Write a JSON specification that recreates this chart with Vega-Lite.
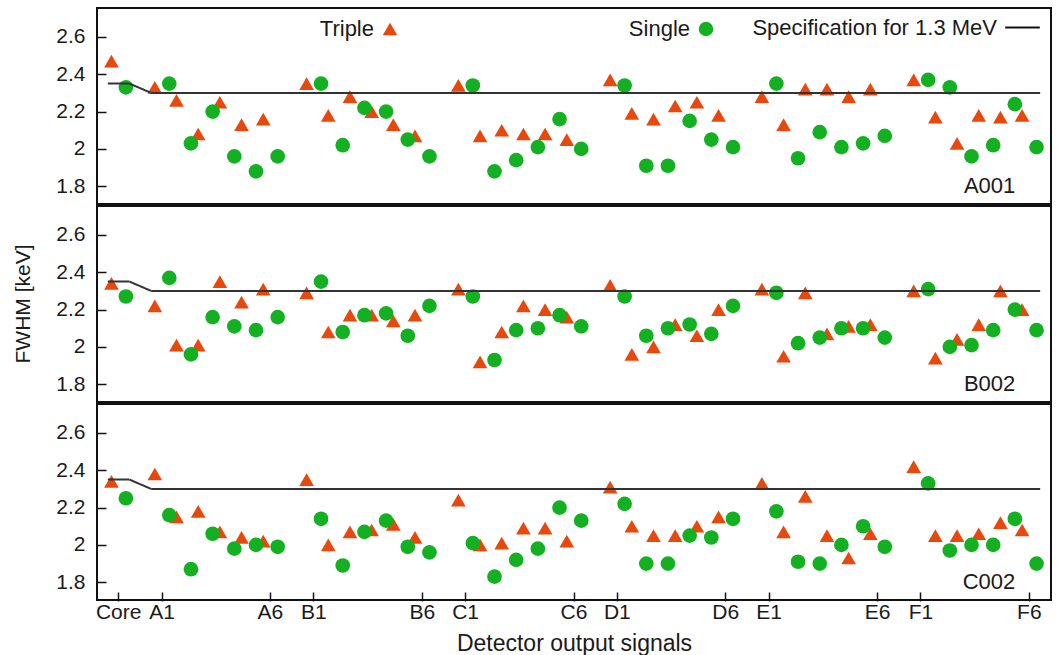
{
  "$schema": "https://vega.github.io/schema/vega-lite/v6.json",
  "padding": {"left": 12, "top": 7, "right": 5, "bottom": 5},
  "background": "white",
  "config": {
    "font": "Liberation Sans",
    "view": {"stroke": "#111", "strokeWidth": 2},
    "axis": {"labelFont": "Liberation Sans", "labelFontSize": 21, "labelColor": "#1a1a1a", "tickColor": "#111", "tickWidth": 1.5, "grid": false, "domain": false, "zindex": 1, "titleFont": "Liberation Sans", "titleFontWeight": "normal", "titleColor": "#1a1a1a"},
    "legend": {"labelFont": "Liberation Sans", "labelFontSize": 22, "labelColor": "#1a1a1a", "labelLimit": 400}
  },
  "data": {"values": [
    {"p":"A001","c":"Core","t":"Triple","v":2.47},{"p":"A001","c":"A1","t":"Triple","v":2.33},{"p":"A001","c":"A2","t":"Triple","v":2.26},{"p":"A001","c":"A3","t":"Triple","v":2.08},{"p":"A001","c":"A4","t":"Triple","v":2.25},{"p":"A001","c":"A5","t":"Triple","v":2.13},{"p":"A001","c":"A6","t":"Triple","v":2.16},
    {"p":"A001","c":"B1","t":"Triple","v":2.35},{"p":"A001","c":"B2","t":"Triple","v":2.18},{"p":"A001","c":"B3","t":"Triple","v":2.28},{"p":"A001","c":"B4","t":"Triple","v":2.2},{"p":"A001","c":"B5","t":"Triple","v":2.13},{"p":"A001","c":"B6","t":"Triple","v":2.07},
    {"p":"A001","c":"C1","t":"Triple","v":2.34},{"p":"A001","c":"C2","t":"Triple","v":2.07},{"p":"A001","c":"C3","t":"Triple","v":2.1},{"p":"A001","c":"C4","t":"Triple","v":2.08},{"p":"A001","c":"C5","t":"Triple","v":2.08},{"p":"A001","c":"C6","t":"Triple","v":2.05},
    {"p":"A001","c":"D1","t":"Triple","v":2.37},{"p":"A001","c":"D2","t":"Triple","v":2.19},{"p":"A001","c":"D3","t":"Triple","v":2.16},{"p":"A001","c":"D4","t":"Triple","v":2.23},{"p":"A001","c":"D5","t":"Triple","v":2.25},{"p":"A001","c":"D6","t":"Triple","v":2.18},
    {"p":"A001","c":"E1","t":"Triple","v":2.28},{"p":"A001","c":"E2","t":"Triple","v":2.13},{"p":"A001","c":"E3","t":"Triple","v":2.32},{"p":"A001","c":"E4","t":"Triple","v":2.32},{"p":"A001","c":"E5","t":"Triple","v":2.28},{"p":"A001","c":"E6","t":"Triple","v":2.32},
    {"p":"A001","c":"F1","t":"Triple","v":2.37},{"p":"A001","c":"F2","t":"Triple","v":2.17},{"p":"A001","c":"F3","t":"Triple","v":2.03},{"p":"A001","c":"F4","t":"Triple","v":2.18},{"p":"A001","c":"F5","t":"Triple","v":2.17},{"p":"A001","c":"F6","t":"Triple","v":2.18},
    {"p":"A001","c":"Core","t":"Single","v":2.33},{"p":"A001","c":"A1","t":"Single","v":2.35},{"p":"A001","c":"A2","t":"Single","v":2.03},{"p":"A001","c":"A3","t":"Single","v":2.2},{"p":"A001","c":"A4","t":"Single","v":1.96},{"p":"A001","c":"A5","t":"Single","v":1.88},{"p":"A001","c":"A6","t":"Single","v":1.96},
    {"p":"A001","c":"B1","t":"Single","v":2.35},{"p":"A001","c":"B2","t":"Single","v":2.02},{"p":"A001","c":"B3","t":"Single","v":2.22},{"p":"A001","c":"B4","t":"Single","v":2.2},{"p":"A001","c":"B5","t":"Single","v":2.05},{"p":"A001","c":"B6","t":"Single","v":1.96},
    {"p":"A001","c":"C1","t":"Single","v":2.34},{"p":"A001","c":"C2","t":"Single","v":1.88},{"p":"A001","c":"C3","t":"Single","v":1.94},{"p":"A001","c":"C4","t":"Single","v":2.01},{"p":"A001","c":"C5","t":"Single","v":2.16},{"p":"A001","c":"C6","t":"Single","v":2.0},
    {"p":"A001","c":"D1","t":"Single","v":2.34},{"p":"A001","c":"D2","t":"Single","v":1.91},{"p":"A001","c":"D3","t":"Single","v":1.91},{"p":"A001","c":"D4","t":"Single","v":2.15},{"p":"A001","c":"D5","t":"Single","v":2.05},{"p":"A001","c":"D6","t":"Single","v":2.01},
    {"p":"A001","c":"E1","t":"Single","v":2.35},{"p":"A001","c":"E2","t":"Single","v":1.95},{"p":"A001","c":"E3","t":"Single","v":2.09},{"p":"A001","c":"E4","t":"Single","v":2.01},{"p":"A001","c":"E5","t":"Single","v":2.03},{"p":"A001","c":"E6","t":"Single","v":2.07},
    {"p":"A001","c":"F1","t":"Single","v":2.37},{"p":"A001","c":"F2","t":"Single","v":2.33},{"p":"A001","c":"F3","t":"Single","v":1.96},{"p":"A001","c":"F4","t":"Single","v":2.02},{"p":"A001","c":"F5","t":"Single","v":2.24},{"p":"A001","c":"F6","t":"Single","v":2.01},

    {"p":"B002","c":"Core","t":"Triple","v":2.34},{"p":"B002","c":"A1","t":"Triple","v":2.22},{"p":"B002","c":"A2","t":"Triple","v":2.01},{"p":"B002","c":"A3","t":"Triple","v":2.01},{"p":"B002","c":"A4","t":"Triple","v":2.35},{"p":"B002","c":"A5","t":"Triple","v":2.24},{"p":"B002","c":"A6","t":"Triple","v":2.31},
    {"p":"B002","c":"B1","t":"Triple","v":2.29},{"p":"B002","c":"B2","t":"Triple","v":2.08},{"p":"B002","c":"B3","t":"Triple","v":2.17},{"p":"B002","c":"B4","t":"Triple","v":2.17},{"p":"B002","c":"B5","t":"Triple","v":2.14},{"p":"B002","c":"B6","t":"Triple","v":2.17},
    {"p":"B002","c":"C1","t":"Triple","v":2.31},{"p":"B002","c":"C2","t":"Triple","v":1.92},{"p":"B002","c":"C3","t":"Triple","v":2.08},{"p":"B002","c":"C4","t":"Triple","v":2.22},{"p":"B002","c":"C5","t":"Triple","v":2.2},{"p":"B002","c":"C6","t":"Triple","v":2.16},
    {"p":"B002","c":"D1","t":"Triple","v":2.33},{"p":"B002","c":"D2","t":"Triple","v":1.96},{"p":"B002","c":"D3","t":"Triple","v":2.0},{"p":"B002","c":"D4","t":"Triple","v":2.12},{"p":"B002","c":"D5","t":"Triple","v":2.06},{"p":"B002","c":"D6","t":"Triple","v":2.2},
    {"p":"B002","c":"E1","t":"Triple","v":2.31},{"p":"B002","c":"E2","t":"Triple","v":1.95},{"p":"B002","c":"E3","t":"Triple","v":2.29},{"p":"B002","c":"E4","t":"Triple","v":2.07},{"p":"B002","c":"E5","t":"Triple","v":2.11},{"p":"B002","c":"E6","t":"Triple","v":2.12},
    {"p":"B002","c":"F1","t":"Triple","v":2.3},{"p":"B002","c":"F2","t":"Triple","v":1.94},{"p":"B002","c":"F3","t":"Triple","v":2.04},{"p":"B002","c":"F4","t":"Triple","v":2.12},{"p":"B002","c":"F5","t":"Triple","v":2.3},{"p":"B002","c":"F6","t":"Triple","v":2.2},
    {"p":"B002","c":"Core","t":"Single","v":2.27},{"p":"B002","c":"A1","t":"Single","v":2.37},{"p":"B002","c":"A2","t":"Single","v":1.96},{"p":"B002","c":"A3","t":"Single","v":2.16},{"p":"B002","c":"A4","t":"Single","v":2.11},{"p":"B002","c":"A5","t":"Single","v":2.09},{"p":"B002","c":"A6","t":"Single","v":2.16},
    {"p":"B002","c":"B1","t":"Single","v":2.35},{"p":"B002","c":"B2","t":"Single","v":2.08},{"p":"B002","c":"B3","t":"Single","v":2.17},{"p":"B002","c":"B4","t":"Single","v":2.18},{"p":"B002","c":"B5","t":"Single","v":2.06},{"p":"B002","c":"B6","t":"Single","v":2.22},
    {"p":"B002","c":"C1","t":"Single","v":2.27},{"p":"B002","c":"C2","t":"Single","v":1.93},{"p":"B002","c":"C3","t":"Single","v":2.09},{"p":"B002","c":"C4","t":"Single","v":2.1},{"p":"B002","c":"C5","t":"Single","v":2.17},{"p":"B002","c":"C6","t":"Single","v":2.11},
    {"p":"B002","c":"D1","t":"Single","v":2.27},{"p":"B002","c":"D2","t":"Single","v":2.06},{"p":"B002","c":"D3","t":"Single","v":2.1},{"p":"B002","c":"D4","t":"Single","v":2.12},{"p":"B002","c":"D5","t":"Single","v":2.07},{"p":"B002","c":"D6","t":"Single","v":2.22},
    {"p":"B002","c":"E1","t":"Single","v":2.29},{"p":"B002","c":"E2","t":"Single","v":2.02},{"p":"B002","c":"E3","t":"Single","v":2.05},{"p":"B002","c":"E4","t":"Single","v":2.1},{"p":"B002","c":"E5","t":"Single","v":2.1},{"p":"B002","c":"E6","t":"Single","v":2.05},
    {"p":"B002","c":"F1","t":"Single","v":2.31},{"p":"B002","c":"F2","t":"Single","v":2.0},{"p":"B002","c":"F3","t":"Single","v":2.01},{"p":"B002","c":"F4","t":"Single","v":2.09},{"p":"B002","c":"F5","t":"Single","v":2.2},{"p":"B002","c":"F6","t":"Single","v":2.09},

    {"p":"C002","c":"Core","t":"Triple","v":2.34},{"p":"C002","c":"A1","t":"Triple","v":2.38},{"p":"C002","c":"A2","t":"Triple","v":2.15},{"p":"C002","c":"A3","t":"Triple","v":2.18},{"p":"C002","c":"A4","t":"Triple","v":2.07},{"p":"C002","c":"A5","t":"Triple","v":2.04},{"p":"C002","c":"A6","t":"Triple","v":2.02},
    {"p":"C002","c":"B1","t":"Triple","v":2.35},{"p":"C002","c":"B2","t":"Triple","v":2.0},{"p":"C002","c":"B3","t":"Triple","v":2.07},{"p":"C002","c":"B4","t":"Triple","v":2.08},{"p":"C002","c":"B5","t":"Triple","v":2.11},{"p":"C002","c":"B6","t":"Triple","v":2.04},
    {"p":"C002","c":"C1","t":"Triple","v":2.24},{"p":"C002","c":"C2","t":"Triple","v":2.0},{"p":"C002","c":"C3","t":"Triple","v":2.01},{"p":"C002","c":"C4","t":"Triple","v":2.09},{"p":"C002","c":"C5","t":"Triple","v":2.09},{"p":"C002","c":"C6","t":"Triple","v":2.02},
    {"p":"C002","c":"D1","t":"Triple","v":2.31},{"p":"C002","c":"D2","t":"Triple","v":2.1},{"p":"C002","c":"D3","t":"Triple","v":2.05},{"p":"C002","c":"D4","t":"Triple","v":2.05},{"p":"C002","c":"D5","t":"Triple","v":2.1},{"p":"C002","c":"D6","t":"Triple","v":2.15},
    {"p":"C002","c":"E1","t":"Triple","v":2.33},{"p":"C002","c":"E2","t":"Triple","v":2.07},{"p":"C002","c":"E3","t":"Triple","v":2.26},{"p":"C002","c":"E4","t":"Triple","v":2.05},{"p":"C002","c":"E5","t":"Triple","v":1.93},{"p":"C002","c":"E6","t":"Triple","v":2.06},
    {"p":"C002","c":"F1","t":"Triple","v":2.42},{"p":"C002","c":"F2","t":"Triple","v":2.05},{"p":"C002","c":"F3","t":"Triple","v":2.05},{"p":"C002","c":"F4","t":"Triple","v":2.06},{"p":"C002","c":"F5","t":"Triple","v":2.12},{"p":"C002","c":"F6","t":"Triple","v":2.08},
    {"p":"C002","c":"Core","t":"Single","v":2.25},{"p":"C002","c":"A1","t":"Single","v":2.16},{"p":"C002","c":"A2","t":"Single","v":1.87},{"p":"C002","c":"A3","t":"Single","v":2.06},{"p":"C002","c":"A4","t":"Single","v":1.98},{"p":"C002","c":"A5","t":"Single","v":2.0},{"p":"C002","c":"A6","t":"Single","v":1.99},
    {"p":"C002","c":"B1","t":"Single","v":2.14},{"p":"C002","c":"B2","t":"Single","v":1.89},{"p":"C002","c":"B3","t":"Single","v":2.07},{"p":"C002","c":"B4","t":"Single","v":2.13},{"p":"C002","c":"B5","t":"Single","v":1.99},{"p":"C002","c":"B6","t":"Single","v":1.96},
    {"p":"C002","c":"C1","t":"Single","v":2.01},{"p":"C002","c":"C2","t":"Single","v":1.83},{"p":"C002","c":"C3","t":"Single","v":1.92},{"p":"C002","c":"C4","t":"Single","v":1.98},{"p":"C002","c":"C5","t":"Single","v":2.2},{"p":"C002","c":"C6","t":"Single","v":2.13},
    {"p":"C002","c":"D1","t":"Single","v":2.22},{"p":"C002","c":"D2","t":"Single","v":1.9},{"p":"C002","c":"D3","t":"Single","v":1.9},{"p":"C002","c":"D4","t":"Single","v":2.05},{"p":"C002","c":"D5","t":"Single","v":2.04},{"p":"C002","c":"D6","t":"Single","v":2.14},
    {"p":"C002","c":"E1","t":"Single","v":2.18},{"p":"C002","c":"E2","t":"Single","v":1.91},{"p":"C002","c":"E3","t":"Single","v":1.9},{"p":"C002","c":"E4","t":"Single","v":2.0},{"p":"C002","c":"E5","t":"Single","v":2.1},{"p":"C002","c":"E6","t":"Single","v":1.99},
    {"p":"C002","c":"F1","t":"Single","v":2.33},{"p":"C002","c":"F2","t":"Single","v":1.97},{"p":"C002","c":"F3","t":"Single","v":2.0},{"p":"C002","c":"F4","t":"Single","v":2.0},{"p":"C002","c":"F5","t":"Single","v":2.14},{"p":"C002","c":"F6","t":"Single","v":1.9},

    {"p":"A001","t":"Spec","c":"Core","c2":"Core","v":2.35,"v2":2.35},{"p":"A001","t":"Spec","c":"g1","c2":"g1","v":2.35,"v2":2.3},{"p":"A001","t":"Spec","c":"A1","c2":"F6","v":2.3,"v2":2.3},
    {"p":"B002","t":"Spec","c":"Core","c2":"Core","v":2.35,"v2":2.35},{"p":"B002","t":"Spec","c":"g1","c2":"g1","v":2.35,"v2":2.3},{"p":"B002","t":"Spec","c":"A1","c2":"F6","v":2.3,"v2":2.3},
    {"p":"C002","t":"Spec","c":"Core","c2":"Core","v":2.35,"v2":2.35},{"p":"C002","t":"Spec","c":"g1","c2":"g1","v":2.35,"v2":2.3},{"p":"C002","t":"Spec","c":"A1","c2":"F6","v":2.3,"v2":2.3}
  ]},
  "facet": {"row": {"field": "p", "type": "nominal", "sort": ["A001", "B002", "C002"],
    "header": {"labels": false, "title": "FWHM [keV]", "titleOrient": "left", "titleFont": "Liberation Sans", "titleFontSize": 21, "titleFontWeight": "normal", "titleColor": "#1a1a1a", "titlePadding": 11}}},
  "spacing": {"row": 0},
  "spec": {
    "width": 954,
    "height": 196,
    "layer": [
      {
        "transform": [{"filter": "datum.t !== 'Spec'"}],
        "mark": {"type": "point", "filled": true, "opacity": 1, "size": 215},
        "encoding": {
          "x": {"field": "c", "type": "nominal",
            "scale": {"domain": ["Core","g1","A1","A2","A3","A4","A5","A6","g2","B1","B2","B3","B4","B5","B6","g3","C1","C2","C3","C4","C5","C6","g4","D1","D2","D3","D4","D5","D6","g5","E1","E2","E3","E4","E5","E6","g6","F1","F2","F3","F4","F5","F6"], "paddingInner": 0, "paddingOuter": 0.5},
            "axis": {"values": ["Core","A1","A6","B1","B6","C1","C6","D1","D6","E1","E6","F1","F6"], "labelAngle": 0, "tickSize": -9, "labelPadding": 9, "title": "Detector output signals", "titleFontSize": 23, "titlePadding": 10}},
          "xOffset": {"field": "t", "type": "nominal", "scale": {"domain": ["Triple", "Single"], "paddingOuter": 0.25}},
          "y": {"field": "v", "type": "quantitative",
            "scale": {"domain": [1.705, 2.755], "nice": false, "zero": false},
            "axis": {"values": [1.8, 2, 2.2, 2.4, 2.6], "format": ".1~f", "tickSize": -10, "labelPadding": 21, "title": null}},
          "color": {"field": "t", "type": "nominal", "scale": {"domain": ["Triple", "Single"], "range": ["#E8480C", "#13B022"]},
            "legend": {"title": null, "orient": "none", "direction": "horizontal", "legendX": 282, "legendY": 10, "columns": 2, "gridAlign": "all", "columnPadding": 230, "labelAlign": "right", "labelOffset": -27, "symbolSize": 210, "symbolStrokeWidth": 0}},
          "shape": {"field": "t", "type": "nominal", "scale": {"domain": ["Triple", "Single"], "range": ["triangle-up", "circle"]},
            "legend": {"title": null, "orient": "none", "direction": "horizontal", "legendX": 282, "legendY": 10, "columns": 2, "gridAlign": "all", "columnPadding": 230, "labelAlign": "right", "labelOffset": -27, "symbolSize": 210, "symbolStrokeWidth": 0}}
        }
      },
      {
        "transform": [{"filter": "datum.t === 'Spec'"}],
        "mark": {"type": "rule", "color": "#333", "strokeWidth": 2},
        "encoding": {
          "x": {"field": "c", "type": "nominal", "bandPosition": 0},
          "x2": {"field": "c2", "bandPosition": 1},
          "y": {"field": "v", "type": "quantitative"},
          "y2": {"field": "v2"},
          "strokeDash": {"datum": "Specification for 1.3 MeV", "type": "nominal", "scale": {"range": [[1, 0]]},
            "legend": {"title": null, "orient": "none", "legendX": 907, "legendY": 1, "labelAlign": "right", "labelOffset": -44, "symbolType": "stroke", "symbolSize": 1200, "symbolStrokeWidth": 2, "symbolStrokeColor": "#111"}}
        }
      },
      {
        "transform": [{"filter": "datum.t === 'Spec' && datum.c === 'Core'"}],
        "mark": {"type": "text", "align": "right", "baseline": "middle", "fontSize": 22, "color": "#1a1a1a", "dx": -14},
        "encoding": {
          "x": {"datum": "F6", "type": "nominal"},
          "y": {"datum": 1.8, "type": "quantitative"},
          "text": {"field": "p", "type": "nominal"}
        }
      }
    ]
  }
}
